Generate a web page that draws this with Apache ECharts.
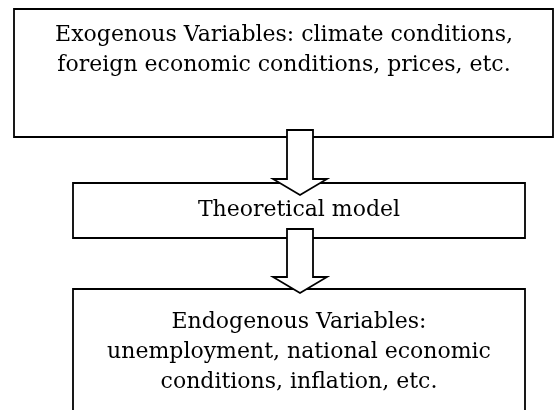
<!DOCTYPE html>
<html>
<head>
<meta charset="utf-8">
<script src="https://cdn.jsdelivr.net/npm/echarts@6/dist/echarts.min.js"></script>
<style>
  html, body { margin: 0; padding: 0; background: #fff; }
  #flowChart { width: 554px; height: 410px; }
</style>
</head>
<body>
<div id="flowChart"></div>
<script>
// boxes of the flow diagram (page units, y down)
var boxText = [
    'Exogenous Variables: climate conditions,\nforeign economic conditions, prices, etc.',
    'Theoretical model',
    'Endogenous Variables:\nunemployment, national economic\nconditions, inflation, etc.'
];
var boxLeft = [14, 73, 73];
var boxRight = [553, 525, 525];
var boxTop = [9, 183, 289];
var boxBottom = [137, 238, 412];
var textX = [284, 299, 299];
var textY = [50, 210, 352];

// block arrows between the boxes
var arrowX = [300, 300];
var arrowStart = [130, 229];
var arrowEnd = [195, 293];

function drawChart() {
    var myChart = echarts.init(document.getElementById('flowChart'));

    var boxData = [];
    for (var i = 0; i < boxText.length; i++) {
        boxData.push([boxLeft[i], boxTop[i], boxRight[i], boxBottom[i], textX[i], textY[i]]);
    }
    var arrowData = [];
    for (var j = 0; j < arrowX.length; j++) {
        arrowData.push([arrowX[j], arrowStart[j], arrowEnd[j]]);
    }

    var option = {
        animation: false,
        grid: { left: 0, right: 0, top: 0, bottom: 0 },
        xAxis: { type: 'value', min: 0, max: 554, show: false },
        yAxis: { type: 'value', min: 0, max: 410, inverse: true, show: false },
        series: [
            {
                type: 'custom',
                coordinateSystem: 'cartesian2d',
                data: boxData,
                renderItem: function (params, api) {
                    var p0 = api.coord([api.value(0), api.value(1)]);
                    var p1 = api.coord([api.value(2), api.value(3)]);
                    var t = api.coord([api.value(4), api.value(5)]);
                    return {
                        type: 'group',
                        children: [
                            {
                                type: 'rect',
                                shape: { x: p0[0], y: p0[1], width: p1[0] - p0[0], height: p1[1] - p0[1] },
                                style: { fill: '#fff', stroke: '#000', lineWidth: 1.8 }
                            },
                            {
                                type: 'text',
                                style: {
                                    text: boxText[params.dataIndex],
                                    x: t[0], y: t[1],
                                    align: 'center', verticalAlign: 'middle',
                                    font: '22px "DejaVu Serif"',
                                    lineHeight: 30,
                                    fill: '#000'
                                }
                            }
                        ]
                    };
                }
            },
            {
                type: 'custom',
                coordinateSystem: 'cartesian2d',
                data: arrowData,
                renderItem: function (params, api) {
                    var cx = api.value(0), y0 = api.value(1), y1 = api.value(2);
                    var headLen = 16, shaft = 13, head = 27;
                    var pts = [
                        [cx - shaft, y0], [cx + shaft, y0], [cx + shaft, y1 - headLen],
                        [cx + head, y1 - headLen], [cx, y1], [cx - head, y1 - headLen],
                        [cx - shaft, y1 - headLen]
                    ].map(function (p) { return api.coord(p); });
                    return {
                        type: 'polygon',
                        shape: { points: pts },
                        style: { fill: '#fff', stroke: '#000', lineWidth: 1.8 }
                    };
                }
            }
        ]
    };

    myChart.setOption(option);
}

drawChart();
</script>
</body>
</html>
